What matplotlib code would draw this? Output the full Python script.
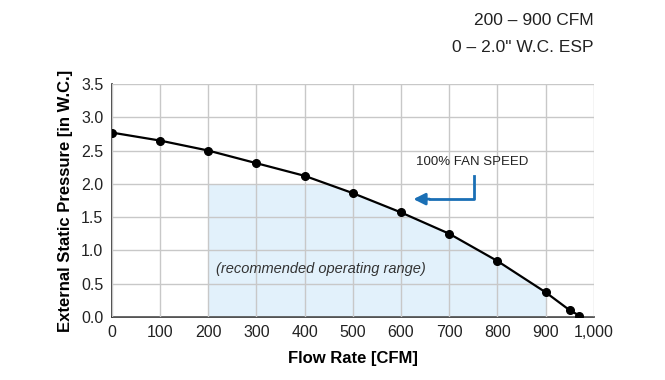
import matplotlib.pyplot as plt
import numpy as np

# fan curve
flow = [0, 100, 200, 300, 400, 500, 600, 700, 800, 900, 950, 970]
pressure = [2.77, 2.65, 2.50, 2.31, 2.12, 1.86, 1.57, 1.25, 0.84, 0.37, 0.10, 0.02]

range_flow = [200, 900]
range_esp = 2.0

xticks = [0, 100, 200, 300, 400, 500, 600, 700, 800, 900, 1000]
xtick_labels = ['0', '100', '200', '300', '400', '500', '600', '700', '800', '900', '1,000']
yticks = [0.0, 0.5, 1.0, 1.5, 2.0, 2.5, 3.0, 3.5]

plt.rcParams['font.family'] = ['Liberation Sans', 'DejaVu Sans']

fig = plt.figure(figsize=(6.65, 3.8), dpi=100)
ax = fig.add_axes([0.168, 0.166, 0.725, 0.613])

# recommended operating range shading
xf = np.linspace(range_flow[0], range_flow[1], 300)
yf = np.minimum(np.interp(xf, flow, pressure), range_esp)
ax.fill_between(xf, 0, yf, color='#e2f1fb', zorder=1, linewidth=0)

ax.plot(flow, pressure, color='black', lw=1.6, marker='o', ms=5.5, zorder=4)

ax.set_xlim(0, 1000)
ax.set_ylim(0, 3.5)
ax.set_xticks(xticks)
ax.set_xticklabels(xtick_labels)
ax.set_yticks(yticks)
ax.set_yticklabels([f'{v:.1f}' for v in yticks])
ax.grid(True, color='#c8c8c8', lw=1.0, zorder=2)
ax.set_axisbelow(False)
for side in ['top', 'right']:
    ax.spines[side].set_visible(False)
ax.spines['left'].set_color('#333333')
ax.spines['bottom'].set_color('#333333')
ax.spines['left'].set_linewidth(1.2)
ax.spines['bottom'].set_linewidth(1.2)
ax.tick_params(length=0, labelsize=11.5, pad=6, colors='#222222')

ax.set_xlabel('Flow Rate [CFM]', fontsize=12, fontweight='bold', labelpad=8)
ax.set_ylabel('External Static Pressure [in W.C.]', fontsize=12, fontweight='bold', labelpad=6)

ax.text(434, 0.72, '(recommended operating range)', style='italic', fontsize=10.5,
        ha='center', va='center', color='#333333', zorder=5)

# 100% fan speed callout
ax.text(748, 2.33, '100% FAN SPEED', fontsize=9.5, ha='center', va='center', color='#222222', zorder=5)
ax.plot([751, 751, 660], [2.11, 1.77, 1.77], color='#1a6fb5', lw=2, zorder=5)
ax.annotate('', xy=(620, 1.77), xytext=(665, 1.77),
            arrowprops=dict(arrowstyle='-|>,head_length=0.7,head_width=0.35', color='#1a6fb5', lw=2),
            zorder=5)

fig.text(0.893, 0.947, '200 – 900 CFM', ha='right', va='center', fontsize=12.5, color='#222222')
fig.text(0.893, 0.876, '0 – 2.0" W.C. ESP', ha='right', va='center', fontsize=12.5, color='#222222')

fig.savefig('out.png', dpi=100)
